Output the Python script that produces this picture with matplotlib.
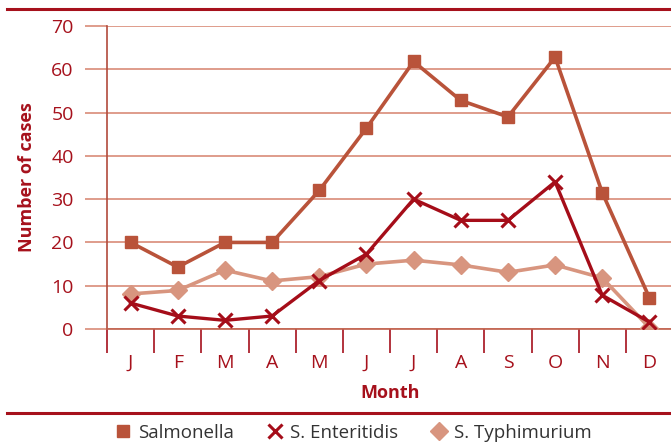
import numpy as np
import matplotlib.pyplot as plt
from matplotlib.lines import Line2D

plt.rcParams['font.family'] = ['Open Sans', 'DejaVu Sans']

months = ['J', 'F', 'M', 'A', 'M', 'J', 'J', 'A', 'S', 'O', 'N', 'D']
salmonella = [20, 14.3, 20, 20, 32, 46.4, 61.8, 52.8, 49, 62.8, 31.5, 7.2]
enteritidis = [6, 3, 2, 3, 11.2, 17.3, 30, 25.1, 25.1, 34, 7.8, 1.6]
typhimurium = [8.1, 8.9, 13.6, 11.1, 12.1, 15, 15.9, 14.8, 13.1, 14.8, 11.8, 0.3]
series_names = ['Salmonella', 'S. Enteritidis', 'S. Typhimurium']

red = '#a6111c'
c_sal = '#b9533a'
c_ent = '#a50d19'
c_typ = '#d8957f'
grid_c = '#d98b78'

fig = plt.figure(figsize=(6.71, 4.45), dpi=100)
ax = fig.add_axes([107/671, 1-329/445, 566/671, 303/445])

x = np.arange(len(months))
ax.plot(x, typhimurium, color=c_typ, lw=2.6, marker='D', ms=9, zorder=3)
ax.plot(x, salmonella, color=c_sal, lw=2.6, marker='s', ms=9, zorder=4)
ax.plot(x, enteritidis, color=c_ent, lw=2.4, marker='x', ms=10, mew=2.2, zorder=5)

ax.set_xlim(-0.5, 11.5)
ax.set_ylim(0, 70)
ax.set_yticks(range(0, 71, 10))
ax.yaxis.grid(True, color=grid_c, lw=1.2)
ax.set_axisbelow(True)
for s in ['top', 'right']:
    ax.spines[s].set_visible(False)
ax.spines['left'].set_color('#b24a3c')
ax.spines['bottom'].set_color('#c0604c')
ax.spines['left'].set_linewidth(1.2)
ax.spines['bottom'].set_linewidth(1.2)

ax.tick_params(axis='y', length=16, width=1.2, color=grid_c, labelcolor=red,
               labelsize=14, pad=8)
ax.set_xticks(x)
ax.set_xticklabels(months)
ax.tick_params(axis='x', which='major', length=0, labelcolor=red, labelsize=14, pad=18)
ax.set_xticks(np.arange(-0.5, 11.5, 1), minor=True)
ax.tick_params(axis='x', which='minor', length=17, width=1.2, color=red)

ax.set_xlabel('Month', color=red, fontsize=13, fontweight='bold', labelpad=9)
ax.set_ylabel('Number of cases', color=red, fontsize=13, fontweight='bold', labelpad=11)

fig.add_artist(Line2D([7/671, 1], [1-9/445, 1-9/445], color=red, lw=2.2))
fig.add_artist(Line2D([7/671, 1], [1-413/445, 1-413/445], color=red, lw=2.2))

handles = [
    Line2D([], [], color=c_sal, marker='s', ls='none', ms=9),
    Line2D([], [], color=c_ent, marker='x', ls='none', ms=10, mew=2.2),
    Line2D([], [], color=c_typ, marker='D', ls='none', ms=9),
]
fig.legend(handles, series_names, loc='center', bbox_to_anchor=(351/671, 1-433/445),
           ncol=3, frameon=False, fontsize=13.5, handletextpad=0.1, columnspacing=1.5,
           handlelength=1.4, labelcolor='#333333')

fig.savefig('out.png', dpi=100)
